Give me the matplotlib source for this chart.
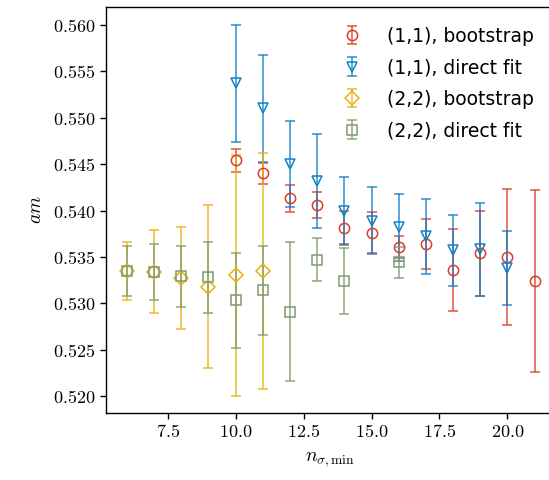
import matplotlib
matplotlib.use('Agg')
import matplotlib.pyplot as plt
import numpy as np
from matplotlib.ticker import FuncFormatter

plt.rcParams['mathtext.fontset'] = 'cm'

# (1,1), bootstrap
x_b11 = [10, 11, 12, 13, 14, 15, 16, 17, 18, 19, 20, 21]
am_b11 = [0.5454, 0.5440, 0.5413, 0.5406, 0.5381, 0.5376, 0.5361, 0.5364, 0.5336, 0.5354, 0.5350, 0.5324]
err_b11 = [0.00125, 0.00115, 0.0015, 0.0014, 0.0018, 0.0022, 0.0012, 0.0027, 0.0044, 0.0046, 0.0073, 0.0098]

# (1,1), direct fit
x_d11 = [10, 11, 12, 13, 14, 15, 16, 17, 18, 19, 20]
am_d11 = [0.5537, 0.5510, 0.5450, 0.5432, 0.5400, 0.5389, 0.5382, 0.5372, 0.5357, 0.5358, 0.5338]
err_d11 = [0.0063, 0.0058, 0.0046, 0.0051, 0.0036, 0.0036, 0.0036, 0.0040, 0.0038, 0.0050, 0.0040]

# (2,2), bootstrap
x_b22 = [6, 7, 8, 9, 10, 11]
am_b22 = [0.5335, 0.5334, 0.5327, 0.5318, 0.5330, 0.5335]
err_b22 = [0.0031, 0.0045, 0.0055, 0.0088, 0.0130, 0.0127]

# (2,2), direct fit
x_d22 = [6, 7, 8, 9, 10, 11, 12, 13, 14, 16]
am_d22 = [0.5335, 0.5334, 0.5329, 0.5328, 0.5303, 0.5314, 0.5291, 0.5347, 0.5324, 0.5344]
err_d22 = [0.0027, 0.0030, 0.0033, 0.0038, 0.0051, 0.0048, 0.0075, 0.0023, 0.0036, 0.0017]

series = [
    (x_b11, am_b11, err_b11, 'o', 7.4, '#dc3c28', '(1,1), bootstrap'),
    (x_d11, am_d11, err_d11, 'v', 7.4, '#1080c6', '(1,1), direct fit'),
    (x_b22, am_b22, err_b22, 'D', 7.1, '#e9b10c', '(2,2), bootstrap'),
    (x_d22, am_d22, err_d22, 's', 7.9, '#7f9a6e', '(2,2), direct fit'),
]

fig = plt.figure(figsize=(5.49, 4.80), dpi=100)
ax = fig.add_axes([106 / 549, 67 / 480, 449 / 549, 406 / 480])

for x, y, e, m, ms, c, lab in series:
    ax.errorbar(x, y, yerr=e, fmt=m, color=c, mfc='none', mec=c, ms=ms,
                mew=1.1, elinewidth=1.1, capsize=3.5, capthick=1.1,
                ecolor=matplotlib.colors.to_rgba(c, 0.88), label=lab)

ax.set_xlim(5.23, 21.75)
ax.set_ylim(0.51817, 0.56194)
ax.set_xticks(np.arange(7.5, 21, 2.5))
ax.set_yticks(np.arange(0.520, 0.5601, 0.005))
ax.xaxis.set_major_formatter(FuncFormatter(lambda v, p: r'$%.1f$' % v))
ax.yaxis.set_major_formatter(FuncFormatter(lambda v, p: r'$%.3f$' % v))
ax.tick_params(labelsize=13, length=4, width=1.0)
for s in ax.spines.values():
    s.set_linewidth(1.0)

ax.set_xlabel(r'$n_{\sigma,\mathrm{min}}$', fontsize=14, labelpad=6)
ax.set_ylabel(r'$am$', fontsize=14, labelpad=6)

ax.legend(loc='upper left', bbox_to_anchor=((326 - 106) / 449, (413 - 19) / 406),
          frameon=False, fontsize=13.5, borderaxespad=0, labelspacing=0.67,
          handletextpad=0.85)

fig.savefig('out.png', dpi=100)
